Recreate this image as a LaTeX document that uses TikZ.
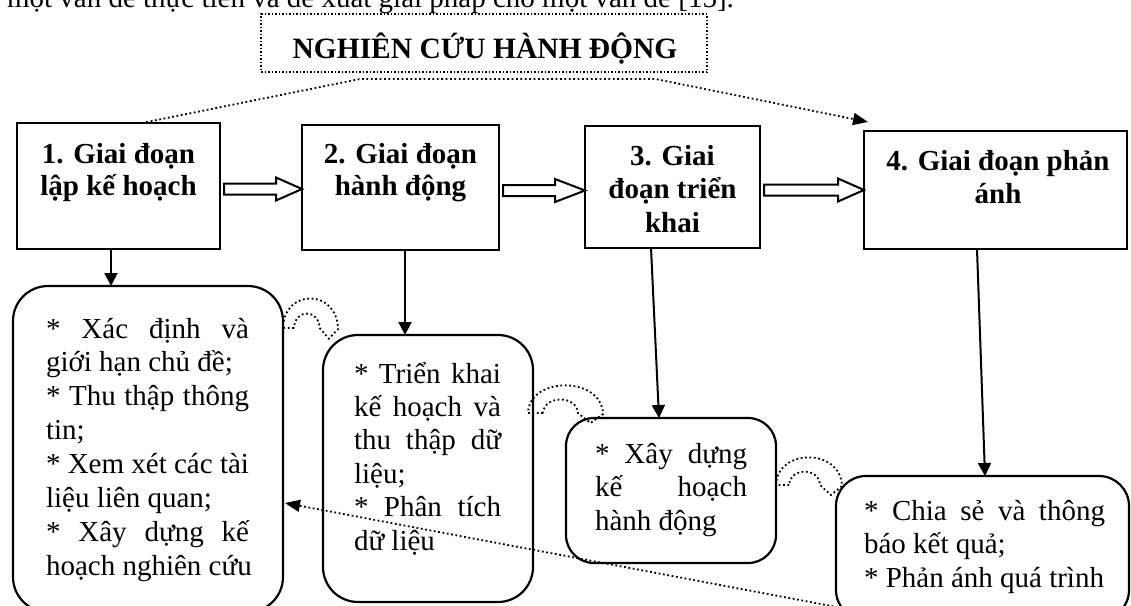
\documentclass[tikz,border=0pt]{standalone}
\usepackage{fontspec}
\setmainfont{Liberation Serif}
\usetikzlibrary{calc,arrows.meta}
\newcommand\blkarrow[3]{%
  \draw[blk] let \p1=(#1.east), \p2=(#2.west) in
   (\x1+4pt,\y1+2.5pt) -- (\x2-#3,\y1+2.5pt) -- (\x2-#3,\y1+8.5pt) -- (\x2,\y1-3pt)
   -- (\x2-#3,\y1-14.5pt) -- (\x2-#3,\y1-8.5pt) -- (\x1+4pt,\y1-8.5pt) -- cycle;}
\begin{document}
\begin{tikzpicture}[x=1pt,y=-1pt,
  every node/.style={inner sep=0pt, outer sep=0pt},
  txt/.style={font=\fontsize{29}{33}\selectfont},
  hd/.style={font=\fontsize{29}{33}\selectfont\bfseries},
  stage/.style={draw, line width=2.2pt, rectangle},
  rbox/.style={draw, line width=2.2pt, rectangle},
  dotline/.style={line width=1.8pt, dash pattern=on 1.8pt off 2.6pt},
  downar/.style={line width=2pt, -{Triangle[length=13pt,width=13pt]}},
  dotar/.style={dotline, -{Triangle[length=15pt,width=12pt]}},
  blk/.style={line width=2pt, fill=white},
  curlyar/.pic={\draw[dotline] (12,0) -- (0,0) .. controls (1,-37) and (59,-37) .. (60,1) -- (50,10) -- (40,0) .. controls (39,-18) and (13,-18) .. (12,0);}
]
\useasboundingbox (0,0) rectangle (1131,605);
\clip (0,0) rectangle (1131,605);

% clipped line of running text at the top
\node[txt, anchor=base west] (toptext) at (7,7) {một vấn đề thực tiễn và đề xuất giải pháp cho một vấn đề [15].};

% title
\node[draw, line width=1.5pt, dash pattern=on 1.5pt off 2pt, minimum width=446pt, minimum height=58pt] (title) at (484,43) {};
\node[font=\fontsize{29.5}{33}\selectfont\bfseries, anchor=base] (titletext) at (485,58) {NGHIÊN CỨU HÀNH ĐỘNG};

% stage boxes
\node[stage, minimum width=203pt, minimum height=126pt] (b1) at (118.5,186) {};
\node[stage, minimum width=197pt, minimum height=125pt] (b2) at (400.5,187.5) {};
\node[stage, minimum width=175pt, minimum height=122pt] (b3) at (672.5,187) {};
\node[stage, minimum width=263pt, minimum height=118pt] (b4) at (995.5,190) {};

\node[hd, anchor=base] (h1a) at (118.5,163) {1. Giai đoạn};
\node[hd, anchor=base] (h1b) at (118.5,195) {lập kế hoạch};
\node[hd, anchor=base] (h2a) at (400.5,163) {2. Giai đoạn};
\node[hd, anchor=base] (h2b) at (400.5,195) {hành động};
\node[hd, anchor=base] (h3a) at (672.5,165) {3. Giai};
\node[hd, anchor=base] (h3b) at (672.5,198) {đoạn triển};
\node[hd, anchor=base] (h3c) at (672.5,232) {khai};
\node[hd, anchor=base] (h4a) at (998,170) {4. Giai đoạn phản};
\node[hd, anchor=base] (h4b) at (998,203) {ánh};

% hollow block arrows
\blkarrow{b1}{b2}{26pt}
\blkarrow{b2}{b3}{30pt}
\blkarrow{b3}{b4}{26pt}

% rounded boxes
\node[rbox, rounded corners=35pt, minimum width=270pt, minimum height=326pt] (r1) at (148,449) {};
\node[rbox, rounded corners=35pt, minimum width=210pt, minimum height=267pt] (r2) at (428,468.5) {};
\node[rbox, rounded corners=28pt, minimum width=210pt, minimum height=145pt] (r3) at (671,490.5) {};
\node[rbox, rounded corners=30pt, minimum width=293pt, minimum height=144pt] (r4) at (982.5,548) {};

\foreach \t [count=\i from 0] in {{\makebox[203pt][s]{* Xác định và}},{giới hạn chủ đề;},{\makebox[203pt][s]{* Thu thập thông}},{tin;},{\makebox[203pt][s]{* Xem xét các tài}},{liệu liên quan;},{\makebox[203pt][s]{* Xây dựng kế}},{hoạch nghiên cứu}}
  \node[txt, anchor=base west] (ra\i) at (46,338+33.9*\i) {\t};
\foreach \t [count=\i from 0] in {{\makebox[147pt][s]{* Triển khai}},{\makebox[147pt][s]{kế hoạch và}},{\makebox[147pt][s]{thu thập dữ}},{liệu;},{\makebox[147pt][s]{* Phân tích}},{dữ liệu}}
  \node[txt, anchor=base west] (rb\i) at (354,383+33.4*\i) {\t};
\foreach \t [count=\i from 0] in {{\makebox[152pt][s]{* Xây dựng}},{\makebox[152pt][s]{kế hoạch}},{hành động}}
  \node[txt, anchor=base west] (rc\i) at (595,463+33.5*\i) {\t};
\foreach \t [count=\i from 0] in {{\makebox[241pt][s]{* Chia sẻ và thông}},{báo kết quả;},{* Phản ánh quá trình}}
  \node[txt, anchor=base west] (rd\i) at (864,520+33.5*\i) {\t};

% down arrows
\coordinate (d1s) at ($(b1.south)+(-7.5,0)$);
\draw[downar] (d1s) -- (d1s |- r1.north);
\coordinate (d2s) at ($(b2.south)+(4.5,0)$);
\draw[downar] (d2s) -- (d2s |- r2.north);
\coordinate (d3s) at ($(b3.south)+(-21.5,0)$);
\coordinate (d3e) at ($(r3.north)+(-12,0)$);
\draw[downar] (d3s) -- (d3e);
\coordinate (d4s) at ($(b4.south)+(-18.5,0)$);
\coordinate (d4e) at ($(r4.north)+(2.5,0)$);
\draw[downar] (d4s) -- (d4e);

% dotted arrow from stage 1 to stage 4 under the title
\coordinate (tp1) at ($(b1.north)+(23.5,0)$);
\coordinate (tp2) at ($(title.south west)+(99,7)$);
\coordinate (tp3) at ($(title.south east)+(-51.5,7)$);
\coordinate (tp4) at ($(b4.north west)+(4,-9)$);
\draw[dotar] (tp1) -- (tp2) -- (tp3) -- (tp4);

% long dotted feedback arrow
\coordinate (fb) at ($(r4.south west)+(6,-12)$);
\coordinate (fe) at ($(r1.east)+(2,54)$);
\draw[dotar] (fb) -- (fe);

% curved dotted arrows between rounded boxes
\pic[xscale=0.917, yscale=1.07] at ($(r1.north east)+(0,42)$) {curlyar};
\pic[xscale=1.25] at ($(r2.north east)+(-5,78)$) {curlyar};
\pic[xscale=1.1] at ($(r3.north east)+(0,67)$) {curlyar};
\end{tikzpicture}
\end{document}
